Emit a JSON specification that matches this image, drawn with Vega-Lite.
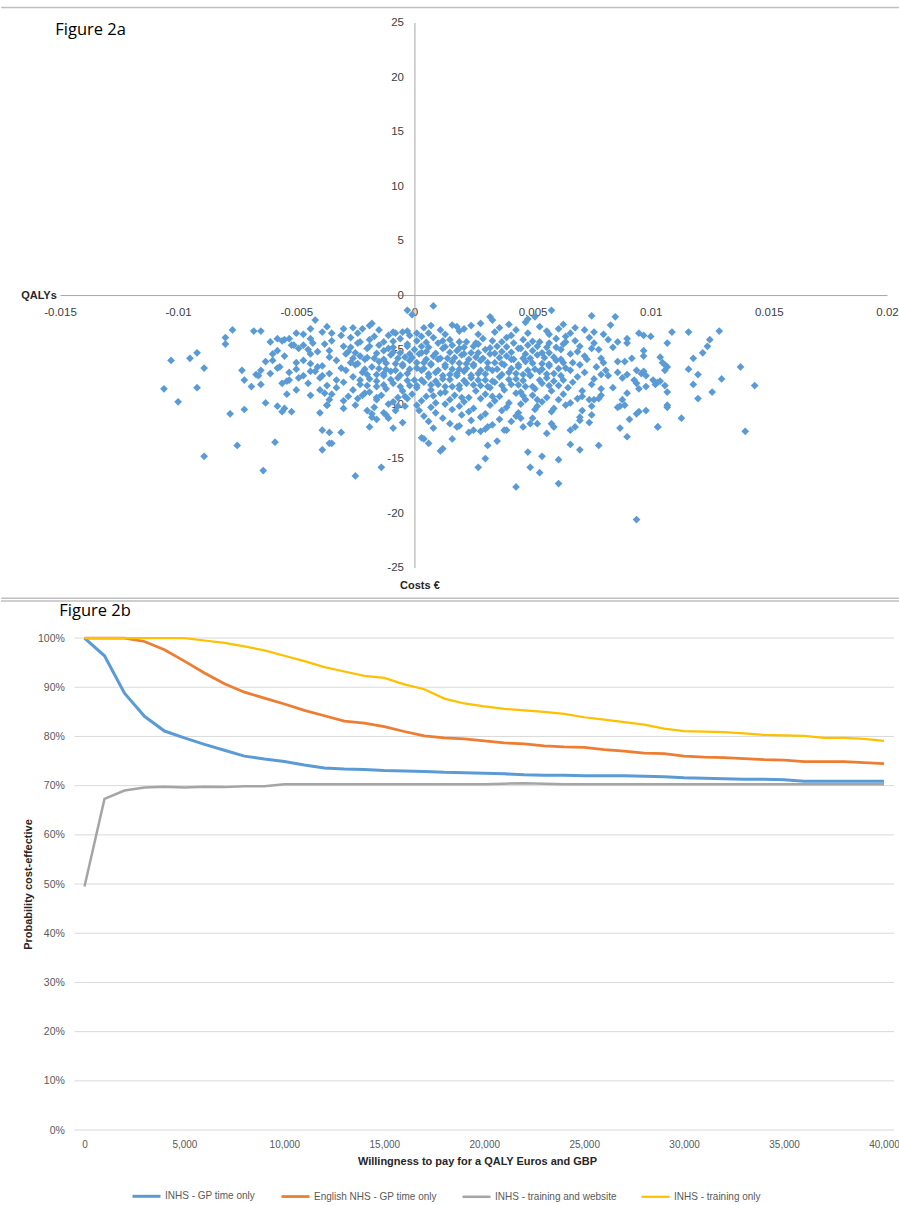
{
"$schema": "https://vega.github.io/schema/vega-lite/v6.json",
"background": "white",
"padding": {"left": 0, "top": 6.55, "right": 0, "bottom": 0},
"autosize": {"type": "pad"},
"config": {"view": {"stroke": null}, "font": "Liberation Sans"},
"bounds": "full",
"spacing": 0.5,
"resolve": {"scale": {"color": "independent", "strokeWidth": "independent"}, "legend": {"color": "independent"}},
"datasets": {
"pts": [
{"q":-0.0077,"c":-3.2},{"q":-0.008,"c":-3.9},{"q":-0.008,"c":-4.5},{"q":-0.0068,"c":-3.3},{"q":-0.0065,"c":-3.3},{"q":-0.0103,"c":-6},{"q":-0.0095,"c":-5.8},{"q":-0.0092,"c":-5.3},{"q":-0.0089,"c":-6.7},{"q":-0.0106,"c":-8.6},{"q":-0.0092,"c":-8.5},{"q":-0.01,"c":-9.8},{"q":-0.0073,"c":-6.9},{"q":-0.0072,"c":-7.8},{"q":-0.0069,"c":-8.4},{"q":-0.0067,"c":-7.3},{"q":-0.0066,"c":-7.4},{"q":-0.0065,"c":-6.9},{"q":-0.0065,"c":-8.2},{"q":-0.0078,"c":-10.9},{"q":-0.0072,"c":-10.5},{"q":-0.0063,"c":-9.9},{"q":-0.0075,"c":-13.8},{"q":-0.0089,"c":-14.8},{"q":-0.0059,"c":-13.5},{"q":-0.0064,"c":-16.1},{"q":-0.0061,"c":-4.3},{"q":-0.0058,"c":-4},{"q":-0.0055,"c":-4.1},{"q":-0.0053,"c":-4},{"q":-0.006,"c":-5.4},{"q":-0.006,"c":-6},{"q":-0.0058,"c":-6.7},{"q":-0.0061,"c":-7.2},{"q":-0.0056,"c":-8.1},{"q":-0.0054,"c":-7.9},{"q":-0.0053,"c":-7.8},{"q":-0.0054,"c":-9.1},{"q":-0.0058,"c":-10.2},{"q":-0.0056,"c":-10.7},{"q":-0.0055,"c":-10.4},{"q":-0.0052,"c":-10.7},{"q":-0.005,"c":-8.7},{"q":-0.0049,"c":-7.6},{"q":-0.005,"c":-3.5},{"q":-0.0051,"c":-4.6},{"q":-0.0047,"c":-4.6},{"q":-0.0045,"c":-5},{"q":-0.0043,"c":-4.4},{"q":-0.0041,"c":-5.2},{"q":-0.0044,"c":-5.4},{"q":-0.0044,"c":-3.1},{"q":-0.0042,"c":-2.3},{"q":-0.0047,"c":-6},{"q":-0.0044,"c":-6.3},{"q":-0.0042,"c":-7},{"q":-0.0041,"c":-6.6},{"q":-0.0039,"c":-7.4},{"q":-0.0044,"c":-9.2},{"q":-0.004,"c":-10.8},{"q":-0.0039,"c":-12.4},{"q":-0.0039,"c":-14.2},{"q":-0.0038,"c":-9},{"q":-0.0037,"c":-10.1},{"q":-0.0036,"c":-13.6},{"q":-0.0036,"c":-12.6},
{"q":0.0008,"c":-1},{"q":-0.0003,"c":-1.4},{"q":-0.0001,"c":-1.8},{"q":-0.0025,"c":-16.6},{"q":-0.0014,"c":-15.8},{"q":-0.0019,"c":-12.1},{"q":-0.0009,"c":-12.2},{"q":-0.0031,"c":-12.6},{"q":-0.0035,"c":-13.6},{"q":0.0003,"c":-13.1},{"q":0.0004,"c":-13.2},{"q":0.0006,"c":-13.6},{"q":0.0011,"c":-14.3},{"q":0.0012,"c":-14.1},{"q":0.0016,"c":-13.2},{"q":0.0027,"c":-15.8},{"q":0.003,"c":-15},{"q":0.0031,"c":-13.8},{"q":0.0018,"c":-12.1},{"q":0.0023,"c":-12.6},{"q":0.0025,"c":-12.4},{"q":0.0028,"c":-12.5},{"q":0.0031,"c":-12.1},{"q":-0.0012,"c":-11},{"q":-0.0011,"c":-11.3},{"q":-0.0008,"c":-10.6},{"q":-0.0007,"c":-10.2},{"q":-0.0018,"c":-10.9},{"q":-0.0018,"c":-11.2},{"q":-0.003,"c":-10.4},{"q":-0.0024,"c":-9.5},{"q":-0.0022,"c":-9.2},{"q":-0.0036,"c":-9.6},{"q":-0.0037,"c":-10.1},
{"q":-0.0037,"c":-2.9},{"q":-0.0035,"c":-3.5},{"q":-0.0026,"c":-3},{"q":-0.0022,"c":-3.1},{"q":-0.0019,"c":-2.8},{"q":-0.0018,"c":-2.6},{"q":-0.0011,"c":-3.7},{"q":-0.0008,"c":-3.5},{"q":-0.0005,"c":-3.4},{"q":-0.0003,"c":-3.3},{"q":0.0001,"c":-3.5},{"q":0.0003,"c":-3.8},{"q":0.0007,"c":-2.8},{"q":0.0011,"c":-3.2},{"q":0.0016,"c":-2.75},{"q":0.0018,"c":-2.9},{"q":0.0028,"c":-2.6},{"q":0.0032,"c":-2},{"q":0.0033,"c":-2.3},
{"q":0.0058,"c":-1.4},{"q":0.0051,"c":-2},{"q":0.0048,"c":-2.2},{"q":0.0047,"c":-2.5},{"q":0.0075,"c":-1.9},{"q":0.0085,"c":-2},{"q":0.0083,"c":-2.75},{"q":0.0063,"c":-2.7},{"q":0.0072,"c":-3.2},{"q":0.0076,"c":-3.4},{"q":0.0066,"c":-3.5},{"q":0.0095,"c":-3.5},{"q":0.0097,"c":-3.7},{"q":0.01,"c":-3.8},{"q":0.009,"c":-4},{"q":0.009,"c":-4.4},{"q":0.0082,"c":-4.1},{"q":0.0084,"c":-4.8},{"q":0.0078,"c":-5},{"q":0.0086,"c":-6.1},{"q":0.0089,"c":-6.1},{"q":0.0092,"c":-5.8},{"q":0.0086,"c":-7.1},{"q":0.0088,"c":-7.6},{"q":0.009,"c":-7.3},{"q":0.0093,"c":-7.8},{"q":0.0094,"c":-6.9},{"q":0.0096,"c":-7.2},{"q":0.0097,"c":-7},{"q":0.0098,"c":-7.4},{"q":0.0094,"c":-8.1},{"q":0.0095,"c":-8.6},{"q":0.0098,"c":-8.4},{"q":0.0101,"c":-7.8},{"q":0.0103,"c":-8},{"q":0.0084,"c":-8.5},{"q":0.009,"c":-9},{"q":0.0088,"c":-9.6},{"q":0.0087,"c":-10.2},{"q":0.0086,"c":-10.3},{"q":0.0089,"c":-10.1},{"q":0.0094,"c":-10.9},{"q":0.0095,"c":-10.7},{"q":0.0098,"c":-10.6},{"q":0.0091,"c":-11.4},{"q":0.0087,"c":-12.2},{"q":0.009,"c":-13},{"q":0.0103,"c":-12.1},{"q":0.0075,"c":-10.2},{"q":0.0075,"c":-11},{"q":0.0074,"c":-11.7},{"q":0.007,"c":-11.2},{"q":0.007,"c":-11.5},{"q":0.0068,"c":-12.1},{"q":0.0066,"c":-12.4},{"q":0.007,"c":-14.2},{"q":0.0066,"c":-13.7},{"q":0.0078,"c":-13.8},{"q":0.0061,"c":-15.1},{"q":0.0061,"c":-17.3},{"q":0.0054,"c":-14.8},{"q":0.0048,"c":-14.4},{"q":0.0049,"c":-15.8},{"q":0.0053,"c":-16.3},{"q":0.0043,"c":-17.6},{"q":0.0094,"c":-20.6},{"q":0.0035,"c":-13.4},{"q":0.0056,"c":-12.7},{"q":0.0058,"c":-11.8},{"q":0.0059,"c":-12.1},{"q":0.0049,"c":-11.8},{"q":0.0045,"c":-11.3},{"q":0.0038,"c":-12.4},{"q":0.0039,"c":-12.4},{"q":0.0074,"c":-9.6},{"q":0.0071,"c":-9.3},{"q":0.0069,"c":-9.5},{"q":0.0076,"c":-9.6},{"q":0.0078,"c":-9.5},{"q":0.0071,"c":-10.6},
{"q":0.0109,"c":-3.4},{"q":0.0116,"c":-3.4},{"q":0.0129,"c":-3.3},{"q":0.0107,"c":-4.4},{"q":0.0125,"c":-4.1},{"q":0.0124,"c":-4.7},{"q":0.0122,"c":-5.3},{"q":0.0118,"c":-5.8},{"q":0.0104,"c":-5.7},{"q":0.0105,"c":-6.2},{"q":0.0106,"c":-6.4},{"q":0.0107,"c":-6.6},{"q":0.0106,"c":-6.9},{"q":0.0116,"c":-6.8},{"q":0.012,"c":-7.3},{"q":0.0118,"c":-8.2},{"q":0.013,"c":-7.7},{"q":0.0138,"c":-6.6},{"q":0.0144,"c":-8.3},{"q":0.0126,"c":-8.9},{"q":0.012,"c":-9.5},{"q":0.0102,"c":-8.2},{"q":0.0104,"c":-7.9},{"q":0.0106,"c":-8.3},{"q":0.0107,"c":-8.9},{"q":0.0107,"c":-10.1},{"q":0.0107,"c":-10.3},{"q":0.0113,"c":-11.3},{"q":0.0103,"c":-12.1},{"q":0.014,"c":-12.5},
{"q":-0.003,"c":-3.1},{"q":-0.0015,"c":-3.2},{"q":0.0004,"c":-3},{"q":0.0021,"c":-3.1},{"q":0.0024,"c":-2.8},{"q":0.0036,"c":-3},{"q":0.004,"c":-2.7},{"q":0.0043,"c":-3.2},{"q":0.0053,"c":-2.9},{"q":0.0056,"c":-3.3},{"q":0.0061,"c":-3.1},{"q":0.0068,"c":-3},
{"q":-0.0047,"c":-3.6},{"q":-0.0039,"c":-3.4},{"q":-0.0031,"c":-3.7},{"q":-0.0024,"c":-3.5},{"q":-0.0017,"c":-3.8},{"q":-0.0009,"c":-3.4},{"q":-0.0002,"c":-3.7},{"q":0.0006,"c":-3.5},{"q":0.0013,"c":-3.6},{"q":0.0019,"c":-3.3},{"q":0.0027,"c":-3.6},{"q":0.0034,"c":-3.4},{"q":0.0041,"c":-3.7},{"q":0.0048,"c":-3.5},{"q":0.0057,"c":-3.6},{"q":0.0064,"c":-3.8},{"q":0.008,"c":-3.6},
{"q":-0.0056,"c":-4.2},{"q":-0.0044,"c":-4},{"q":-0.0035,"c":-4.2},{"q":-0.0027,"c":-3.9},{"q":-0.0019,"c":-4.1},{"q":-0.0013,"c":-4.3},{"q":-0.0006,"c":-4},{"q":0.0001,"c":-4.2},{"q":0.0008,"c":-3.9},{"q":0.0015,"c":-4.1},{"q":0.0022,"c":-4.3},{"q":0.0029,"c":-4},{"q":0.0033,"c":-4.2},{"q":0.0039,"c":-3.9},{"q":0.0046,"c":-4.1},{"q":0.0053,"c":-4.3},{"q":0.006,"c":-4},{"q":0.0068,"c":-4.2},{"q":0.0074,"c":-3.9},{"q":0.0086,"c":-4.3},
{"q":-0.0052,"c":-4.6},{"q":-0.0038,"c":-4.5},{"q":-0.003,"c":-4.7},{"q":-0.0024,"c":-4.4},{"q":-0.0015,"c":-4.6},{"q":-0.0009,"c":-4.8},{"q":-0.0003,"c":-4.5},{"q":0.0003,"c":-4.7},{"q":0.001,"c":-4.4},{"q":0.0016,"c":-4.6},{"q":0.0021,"c":-4.8},{"q":0.0027,"c":-4.5},{"q":0.0035,"c":-4.7},{"q":0.0042,"c":-4.4},{"q":0.0048,"c":-4.6},{"q":0.0056,"c":-4.8},{"q":0.0063,"c":-4.5},{"q":0.007,"c":-4.7},{"q":0.0076,"c":-4.4},
{"q":-0.0058,"c":-5.1},{"q":-0.0049,"c":-4.9},{"q":-0.0036,"c":-5.1},{"q":-0.0028,"c":-5.2},{"q":-0.002,"c":-4.9},{"q":-0.0013,"c":-5.1},{"q":-0.0006,"c":-5.3},{"q":0,"c":-5},{"q":0.0005,"c":-5.2},{"q":0.0012,"c":-4.9},{"q":0.0018,"c":-5.1},{"q":0.0024,"c":-5.3},{"q":0.003,"c":-5},{"q":0.0037,"c":-5.2},{"q":0.0044,"c":-4.9},{"q":0.005,"c":-5.1},{"q":0.0057,"c":-5.3},{"q":0.0062,"c":-5},{"q":0.0069,"c":-5.2},{"q":0.0075,"c":-4.9},{"q":0.0097,"c":-5.1},
{"q":-0.0055,"c":-5.6},{"q":-0.0036,"c":-5.7},{"q":-0.0029,"c":-5.4},{"q":-0.0023,"c":-5.6},{"q":-0.0017,"c":-5.8},{"q":-0.001,"c":-5.5},{"q":-0.0004,"c":-5.7},{"q":0.0002,"c":-5.4},{"q":0.0008,"c":-5.6},{"q":0.0014,"c":-5.8},{"q":0.002,"c":-5.5},{"q":0.0026,"c":-5.7},{"q":0.0032,"c":-5.4},{"q":0.0039,"c":-5.6},{"q":0.0046,"c":-5.8},{"q":0.0052,"c":-5.5},{"q":0.0059,"c":-5.7},{"q":0.0066,"c":-5.4},{"q":0.0072,"c":-5.6},{"q":0.0079,"c":-5.8},{"q":0.0097,"c":-5.6},
{"q":-0.0063,"c":-6.1},{"q":-0.005,"c":-6.2},{"q":-0.0033,"c":-6},{"q":-0.0027,"c":-6.2},{"q":-0.0021,"c":-5.9},{"q":-0.0015,"c":-6.1},{"q":-0.0008,"c":-6.3},{"q":-0.0002,"c":-6},{"q":0.0004,"c":-6.2},{"q":0.001,"c":-5.9},{"q":0.0016,"c":-6.1},{"q":0.0022,"c":-6.3},{"q":0.0028,"c":-6},{"q":0.0034,"c":-6.2},{"q":0.0041,"c":-5.9},{"q":0.0047,"c":-6.1},{"q":0.0054,"c":-6.3},{"q":0.006,"c":-6},{"q":0.0067,"c":-6.2},{"q":0.0073,"c":-5.9},{"q":0.008,"c":-6.2},
{"q":-0.0057,"c":-6.6},{"q":-0.005,"c":-6.8},{"q":-0.0039,"c":-6.5},{"q":-0.0031,"c":-6.7},{"q":-0.0025,"c":-6.4},{"q":-0.0018,"c":-6.6},{"q":-0.0012,"c":-6.8},{"q":-0.0005,"c":-6.5},{"q":0.0001,"c":-6.7},{"q":0.0007,"c":-6.4},{"q":0.0013,"c":-6.6},{"q":0.0019,"c":-6.8},{"q":0.0025,"c":-6.5},{"q":0.0031,"c":-6.7},{"q":0.0038,"c":-6.4},{"q":0.0044,"c":-6.6},{"q":0.0051,"c":-6.8},{"q":0.0057,"c":-6.5},{"q":0.0064,"c":-6.7},{"q":0.007,"c":-6.4},{"q":0.0077,"c":-6.6},{"q":0.0081,"c":-6.9},
{"q":-0.0053,"c":-7.1},{"q":-0.0044,"c":-7},{"q":-0.0036,"c":-7.2},{"q":-0.0029,"c":-6.9},{"q":-0.0022,"c":-7.1},{"q":-0.0016,"c":-7.3},{"q":-0.001,"c":-7},{"q":-0.0003,"c":-7.2},{"q":0.0003,"c":-6.9},{"q":0.0009,"c":-7.1},{"q":0.0015,"c":-7.3},{"q":0.0021,"c":-7},{"q":0.0027,"c":-7.2},{"q":0.0033,"c":-6.9},{"q":0.004,"c":-7.1},{"q":0.0046,"c":-7.3},{"q":0.0053,"c":-7},{"q":0.0059,"c":-7.2},{"q":0.0066,"c":-6.9},{"q":0.0072,"c":-7.1},{"q":0.0079,"c":-7.3},
{"q":-0.0047,"c":-7.4},{"q":-0.004,"c":-7.6},{"q":-0.0033,"c":-7.8},{"q":-0.0026,"c":-7.5},{"q":-0.0019,"c":-7.7},{"q":-0.0013,"c":-7.4},{"q":-0.0007,"c":-7.6},{"q":0,"c":-7.8},{"q":0.0006,"c":-7.5},{"q":0.0012,"c":-7.7},{"q":0.0018,"c":-7.4},{"q":0.0024,"c":-7.6},{"q":0.003,"c":-7.8},{"q":0.0036,"c":-7.5},{"q":0.0043,"c":-7.7},{"q":0.0049,"c":-7.4},{"q":0.0056,"c":-7.6},{"q":0.0063,"c":-7.8},{"q":0.0069,"c":-7.5},{"q":0.0076,"c":-7.7},{"q":0.0082,"c":-7.4},
{"q":-0.0045,"c":-8.1},{"q":-0.0037,"c":-8.3},{"q":-0.003,"c":-8},{"q":-0.0023,"c":-8.2},{"q":-0.0016,"c":-8.4},{"q":-0.0009,"c":-8.1},{"q":-0.0002,"c":-8.3},{"q":0.0004,"c":-8},{"q":0.001,"c":-8.2},{"q":0.0016,"c":-8.4},{"q":0.0022,"c":-8.1},{"q":0.0028,"c":-8.3},{"q":0.0034,"c":-8},{"q":0.0041,"c":-8.2},{"q":0.0047,"c":-8.4},{"q":0.0054,"c":-8.1},{"q":0.0061,"c":-8.3},{"q":0.0067,"c":-8},{"q":0.0075,"c":-8.2},{"q":0.0079,"c":-8.6},
{"q":-0.004,"c":-8.7},{"q":-0.0033,"c":-8.5},{"q":-0.0026,"c":-8.7},{"q":-0.0019,"c":-8.9},{"q":-0.0012,"c":-8.6},{"q":-0.0005,"c":-8.8},{"q":0.0001,"c":-8.5},{"q":0.0007,"c":-8.7},{"q":0.0013,"c":-8.9},{"q":0.0019,"c":-8.6},{"q":0.0026,"c":-8.8},{"q":0.0032,"c":-8.5},{"q":0.0038,"c":-8.7},{"q":0.0045,"c":-8.9},{"q":0.0051,"c":-8.6},{"q":0.0058,"c":-8.8},{"q":0.0065,"c":-8.5},{"q":0.0071,"c":-8.8},
{"q":-0.0035,"c":-9.1},{"q":-0.0028,"c":-9.3},{"q":-0.0021,"c":-9},{"q":-0.0014,"c":-9.2},{"q":-0.0007,"c":-9.4},{"q":-0.0001,"c":-9.1},{"q":0.0005,"c":-9.3},{"q":0.0011,"c":-9},{"q":0.0017,"c":-9.2},{"q":0.0023,"c":-9.4},{"q":0.003,"c":-9.1},{"q":0.0036,"c":-9.3},{"q":0.0043,"c":-9},{"q":0.005,"c":-9.2},{"q":0.0056,"c":-9.4},{"q":0.0063,"c":-9.1},{"q":0.0079,"c":-9.2},
{"q":-0.003,"c":-9.7},{"q":-0.0016,"c":-9.6},{"q":-0.0009,"c":-9.8},{"q":-0.0003,"c":-9.5},{"q":0.0003,"c":-9.7},{"q":0.0009,"c":-9.9},{"q":0.0015,"c":-9.6},{"q":0.0021,"c":-9.8},{"q":0.0028,"c":-9.5},{"q":0.0034,"c":-9.7},{"q":0.004,"c":-9.9},{"q":0.0047,"c":-9.6},{"q":0.0054,"c":-9.8},{"q":0.0061,"c":-9.6},{"q":0.0066,"c":-9.9},
{"q":-0.0025,"c":-10.1},{"q":-0.0017,"c":-10.3},{"q":-0.0011,"c":-10},{"q":-0.0004,"c":-10.2},{"q":0.0001,"c":-10.1},{"q":0.0007,"c":-10.3},{"q":0.0013,"c":-10},{"q":0.0019,"c":-10.2},{"q":0.0025,"c":-10.4},{"q":0.0032,"c":-10.1},{"q":0.0039,"c":-10.3},{"q":0.0045,"c":-10},{"q":0.0052,"c":-10.2},{"q":0.0059,"c":-10.4},{"q":0.0064,"c":-10.1},
{"q":-0.002,"c":-10.6},{"q":-0.0013,"c":-10.8},{"q":0.0002,"c":-10.6},{"q":0.0009,"c":-10.8},{"q":0.0016,"c":-10.5},{"q":0.0023,"c":-10.7},{"q":0.003,"c":-10.9},{"q":0.0037,"c":-10.6},{"q":0.0044,"c":-10.8},{"q":0.0051,"c":-10.5},{"q":0.0058,"c":-10.7},
{"q":-0.0016,"c":-11.4},{"q":0.0004,"c":-11.1},{"q":0.0012,"c":-11.3},{"q":0.002,"c":-11},{"q":0.0028,"c":-11.2},{"q":0.0036,"c":-11.4},{"q":0.0043,"c":-11.1},{"q":0.005,"c":-11.3},
{"q":-0.0005,"c":-11.7},{"q":0.0006,"c":-11.6},{"q":0.0015,"c":-11.8},{"q":0.0024,"c":-11.5},{"q":0.0033,"c":-11.9},{"q":0.0041,"c":-11.6},{"q":0.0052,"c":-11.8},
{"q":0.0008,"c":-12.2},{"q":0.0019,"c":-12},{"q":0.003,"c":-12.3},{"q":0.0046,"c":-12.1},
{"q":-0.0023,"c":-4.3},{"q":-0.0009,"c":-4.25},{"q":0.0005,"c":-4.35},{"q":0.0012,"c":-4.2},{"q":0.0019,"c":-4.3},{"q":0.0026,"c":-4.4},{"q":0.0037,"c":-4.3},{"q":0.005,"c":-4.25},{"q":0.0057,"c":-4.4},{"q":0.0064,"c":-4.3},
{"q":-0.0027,"c":-4.8},{"q":-0.0019,"c":-4.7},{"q":-0.0011,"c":-4.9},{"q":-0.0003,"c":-4.7},{"q":0.0006,"c":-4.8},{"q":0.0013,"c":-4.75},{"q":0.0019,"c":-4.9},{"q":0.0025,"c":-4.7},{"q":0.0032,"c":-4.85},{"q":0.0039,"c":-4.75},{"q":0.0045,"c":-4.9},{"q":0.0052,"c":-4.7},{"q":0.006,"c":-4.8},
{"q":-0.0025,"c":-5.3},{"q":-0.0016,"c":-5.35},{"q":-0.0009,"c":-5.25},{"q":-0.0002,"c":-5.4},{"q":0.0003,"c":-5.3},{"q":0.0009,"c":-5.35},{"q":0.0015,"c":-5.25},{"q":0.0021,"c":-5.4},{"q":0.0027,"c":-5.3},{"q":0.0034,"c":-5.35},{"q":0.0041,"c":-5.25},{"q":0.0047,"c":-5.4},{"q":0.0054,"c":-5.3},
{"q":-0.0026,"c":-5.8},{"q":-0.002,"c":-5.75},{"q":-0.0013,"c":-5.9},{"q":-0.0007,"c":-5.8},{"q":-0.0001,"c":-5.75},{"q":0.0005,"c":-5.9},{"q":0.0011,"c":-5.8},{"q":0.0017,"c":-5.75},{"q":0.0023,"c":-5.9},{"q":0.0029,"c":-5.8},{"q":0.0036,"c":-5.75},{"q":0.0042,"c":-5.9},{"q":0.0049,"c":-5.8},{"q":0.0055,"c":-5.75},{"q":0.0062,"c":-5.9},
{"q":-0.0024,"c":-6.3},{"q":-0.0012,"c":-6.25},{"q":-0.0005,"c":-6.35},{"q":0.0001,"c":-6.2},{"q":0.0007,"c":-6.3},{"q":0.0013,"c":-6.4},{"q":0.0019,"c":-6.25},{"q":0.0025,"c":-6.35},{"q":0.0031,"c":-6.2},{"q":0.0037,"c":-6.3},{"q":0.0044,"c":-6.4},{"q":0.005,"c":-6.25},{"q":0.0057,"c":-6.35},{"q":0.0063,"c":-6.2},
{"q":-0.0021,"c":-6.8},{"q":-0.0015,"c":-6.75},{"q":-0.0008,"c":-6.9},{"q":-0.0002,"c":-6.8},{"q":0.0004,"c":-6.75},{"q":0.001,"c":-6.9},{"q":0.0016,"c":-6.8},{"q":0.0022,"c":-6.75},{"q":0.0028,"c":-6.9},{"q":0.0035,"c":-6.8},{"q":0.0041,"c":-6.75},{"q":0.0048,"c":-6.9},{"q":0.0054,"c":-6.8},{"q":0.0061,"c":-6.75},
{"q":-0.002,"c":-7.3},{"q":-0.0013,"c":-7.2},{"q":-0.0006,"c":-7.35},{"q":0.0006,"c":-7.25},{"q":0.0012,"c":-7.4},{"q":0.0018,"c":-7.2},{"q":0.0024,"c":-7.35},{"q":0.003,"c":-7.25},{"q":0.0037,"c":-7.3},{"q":0.0043,"c":-7.2},{"q":0.0049,"c":-7.35},{"q":0.0056,"c":-7.25},{"q":0.0062,"c":-7.4},
{"q":-0.0023,"c":-7.8},{"q":-0.0016,"c":-7.9},{"q":-0.001,"c":-7.75},{"q":-0.0003,"c":-7.85},{"q":0.0003,"c":-7.8},{"q":0.0009,"c":-7.9},{"q":0.0015,"c":-7.75},{"q":0.0021,"c":-7.85},{"q":0.0027,"c":-7.8},{"q":0.0033,"c":-7.9},{"q":0.004,"c":-7.75},{"q":0.0046,"c":-7.85},{"q":0.0053,"c":-7.8},{"q":0.0059,"c":-7.9},
{"q":-0.002,"c":-8.3},{"q":-0.0013,"c":-8.25},{"q":-0.0006,"c":-8.4},{"q":0.0001,"c":-8.3},{"q":0.0007,"c":-8.25},{"q":0.0013,"c":-8.4},{"q":0.0019,"c":-8.3},{"q":0.0025,"c":-8.25},{"q":0.0031,"c":-8.4},{"q":0.0037,"c":-8.3},{"q":0.0044,"c":-8.25},{"q":0.005,"c":-8.4},{"q":0.0057,"c":-8.3},
{"q":-0.0016,"c":-9.4},{"q":-0.0004,"c":-9.3},{"q":0.0008,"c":-9.25},{"q":0.002,"c":-9.4},{"q":0.0033,"c":-9.3},{"q":0.0046,"c":-9.25},{"q":0.0052,"c":-9.6}
],
"ceac": [
{"w":0,"INHS - GP time only":1,"English NHS - GP time only":1,"INHS - training and website":0.495,"INHS - training only":1},
{"w":1000,"INHS - GP time only":0.964,"English NHS - GP time only":1,"INHS - training and website":0.673,"INHS - training only":1},
{"w":2000,"INHS - GP time only":0.888,"English NHS - GP time only":1,"INHS - training and website":0.69,"INHS - training only":1},
{"w":3000,"INHS - GP time only":0.841,"English NHS - GP time only":0.993,"INHS - training and website":0.696,"INHS - training only":1},
{"w":4000,"INHS - GP time only":0.811,"English NHS - GP time only":0.976,"INHS - training and website":0.698,"INHS - training only":1},
{"w":5000,"INHS - GP time only":0.797,"English NHS - GP time only":0.953,"INHS - training and website":0.696,"INHS - training only":1},
{"w":6000,"INHS - GP time only":0.784,"English NHS - GP time only":0.929,"INHS - training and website":0.698,"INHS - training only":0.995},
{"w":7000,"INHS - GP time only":0.772,"English NHS - GP time only":0.907,"INHS - training and website":0.697,"INHS - training only":0.99},
{"w":8000,"INHS - GP time only":0.76,"English NHS - GP time only":0.89,"INHS - training and website":0.699,"INHS - training only":0.983},
{"w":9000,"INHS - GP time only":0.754,"English NHS - GP time only":0.878,"INHS - training and website":0.699,"INHS - training only":0.975},
{"w":10000,"INHS - GP time only":0.749,"English NHS - GP time only":0.866,"INHS - training and website":0.703,"INHS - training only":0.964},
{"w":11000,"INHS - GP time only":0.742,"English NHS - GP time only":0.853,"INHS - training and website":0.703,"INHS - training only":0.953},
{"w":12000,"INHS - GP time only":0.736,"English NHS - GP time only":0.842,"INHS - training and website":0.703,"INHS - training only":0.941},
{"w":13000,"INHS - GP time only":0.734,"English NHS - GP time only":0.831,"INHS - training and website":0.703,"INHS - training only":0.932},
{"w":14000,"INHS - GP time only":0.733,"English NHS - GP time only":0.827,"INHS - training and website":0.703,"INHS - training only":0.923},
{"w":15000,"INHS - GP time only":0.731,"English NHS - GP time only":0.82,"INHS - training and website":0.703,"INHS - training only":0.919},
{"w":16000,"INHS - GP time only":0.73,"English NHS - GP time only":0.81,"INHS - training and website":0.703,"INHS - training only":0.906},
{"w":17000,"INHS - GP time only":0.729,"English NHS - GP time only":0.801,"INHS - training and website":0.703,"INHS - training only":0.896},
{"w":18000,"INHS - GP time only":0.727,"English NHS - GP time only":0.797,"INHS - training and website":0.703,"INHS - training only":0.877},
{"w":19000,"INHS - GP time only":0.726,"English NHS - GP time only":0.795,"INHS - training and website":0.703,"INHS - training only":0.867},
{"w":20000,"INHS - GP time only":0.725,"English NHS - GP time only":0.791,"INHS - training and website":0.703,"INHS - training only":0.861},
{"w":21000,"INHS - GP time only":0.724,"English NHS - GP time only":0.787,"INHS - training and website":0.704,"INHS - training only":0.856},
{"w":22000,"INHS - GP time only":0.722,"English NHS - GP time only":0.785,"INHS - training and website":0.705,"INHS - training only":0.853},
{"w":23000,"INHS - GP time only":0.721,"English NHS - GP time only":0.781,"INHS - training and website":0.704,"INHS - training only":0.85},
{"w":24000,"INHS - GP time only":0.721,"English NHS - GP time only":0.779,"INHS - training and website":0.703,"INHS - training only":0.846},
{"w":25000,"INHS - GP time only":0.72,"English NHS - GP time only":0.778,"INHS - training and website":0.703,"INHS - training only":0.839},
{"w":26000,"INHS - GP time only":0.72,"English NHS - GP time only":0.773,"INHS - training and website":0.703,"INHS - training only":0.834},
{"w":27000,"INHS - GP time only":0.72,"English NHS - GP time only":0.77,"INHS - training and website":0.703,"INHS - training only":0.829},
{"w":28000,"INHS - GP time only":0.719,"English NHS - GP time only":0.766,"INHS - training and website":0.703,"INHS - training only":0.824},
{"w":29000,"INHS - GP time only":0.718,"English NHS - GP time only":0.765,"INHS - training and website":0.703,"INHS - training only":0.816},
{"w":30000,"INHS - GP time only":0.716,"English NHS - GP time only":0.76,"INHS - training and website":0.703,"INHS - training only":0.811},
{"w":31000,"INHS - GP time only":0.715,"English NHS - GP time only":0.758,"INHS - training and website":0.703,"INHS - training only":0.81},
{"w":32000,"INHS - GP time only":0.714,"English NHS - GP time only":0.757,"INHS - training and website":0.703,"INHS - training only":0.809},
{"w":33000,"INHS - GP time only":0.713,"English NHS - GP time only":0.755,"INHS - training and website":0.703,"INHS - training only":0.806},
{"w":34000,"INHS - GP time only":0.713,"English NHS - GP time only":0.753,"INHS - training and website":0.703,"INHS - training only":0.803},
{"w":35000,"INHS - GP time only":0.712,"English NHS - GP time only":0.752,"INHS - training and website":0.703,"INHS - training only":0.802},
{"w":36000,"INHS - GP time only":0.709,"English NHS - GP time only":0.749,"INHS - training and website":0.703,"INHS - training only":0.801},
{"w":37000,"INHS - GP time only":0.709,"English NHS - GP time only":0.749,"INHS - training and website":0.703,"INHS - training only":0.797},
{"w":38000,"INHS - GP time only":0.709,"English NHS - GP time only":0.749,"INHS - training and website":0.703,"INHS - training only":0.797},
{"w":39000,"INHS - GP time only":0.709,"English NHS - GP time only":0.747,"INHS - training and website":0.703,"INHS - training only":0.795},
{"w":40000,"INHS - GP time only":0.709,"English NHS - GP time only":0.745,"INHS - training and website":0.703,"INHS - training only":0.791}
],
"grid": [{"g":0},{"g":0.1},{"g":0.2},{"g":0.3},{"g":0.4},{"g":0.5},{"g":0.6},{"g":0.7},{"g":0.8},{"g":0.9},{"g":1}]
},
"vconcat": [
{
"width": 827,
"height": 545,
"layer": [
{
"data": {"values": [{"x1": -0.01749, "x2": 0.02055, "y": 26.38}, {"x1": -0.01749, "x2": 0.02055, "y": -27.82}]},
"mark": {"type": "rule", "color": "#BFBFBF", "strokeWidth": 1.5},
"encoding": {
"x": {"field": "x1", "type": "quantitative", "title": null, "scale": {"domain": [-0.015, 0.02], "nice": false, "zero": false}},
"x2": {"field": "x2"},
"y": {"field": "y", "type": "quantitative", "title": null, "scale": {"domain": [-25, 25], "nice": false, "zero": false}}
}
},
{
"data": {"name": "pts"},
"mark": {"type": "point", "shape": "diamond", "filled": true, "size": 60, "color": "#5B9BD5", "opacity": 1},
"encoding": {
"x": {"field": "q", "type": "quantitative", "title": null, "scale": {"domain": [-0.015, 0.02], "nice": false, "zero": false},
"axis": {"values": [-0.015, -0.01, -0.005, 0, 0.005, 0.01, 0.015, 0.02], "labelExpr": "'' + datum.value", "orient": "bottom", "offset": -272.5, "grid": false, "ticks": false, "tickSize": 0, "domainColor": "#A6A6A6", "domainWidth": 1, "labelPadding": 11, "labelFontSize": 11.5, "labelColor": "#404040", "labelFlush": false, "labelOverlap": false, "title": null}},
"y": {"field": "c", "type": "quantitative", "title": null, "scale": {"domain": [-25, 25], "nice": false, "zero": false},
"axis": {"values": [-25, -20, -15, -10, -5, 0, 5, 10, 15, 20, 25], "labelExpr": "'' + datum.value", "orient": "left", "offset": -354.43, "grid": false, "ticks": false, "tickSize": 0, "domainColor": "#A6A6A6", "domainWidth": 1, "labelPadding": 11, "labelFontSize": 11.5, "labelColor": "#404040", "labelFlush": false, "labelOverlap": false, "title": null}}
}
},
{
"data": {"values": [{"q": -0.015199, "c": 23.9, "t": "Figure 2a"}]},
"mark": {"type": "text", "align": "left", "baseline": "alphabetic", "font": "Open Sans", "fontSize": 16.5, "color": "#000000"},
"encoding": {
"x": {"field": "q", "type": "quantitative", "title": null, "scale": {"domain": [-0.015, 0.02], "nice": false, "zero": false}},
"y": {"field": "c", "type": "quantitative", "title": null, "scale": {"domain": [-25, 25], "nice": false, "zero": false}},
"text": {"field": "t"}
}
},
{
"data": {"values": [{"q": -0.015889, "c": -0.1, "t": "QALYs"}, {"q": 0.000233, "c": -26.72, "t": "Costs €"}]},
"mark": {"type": "text", "align": "center", "baseline": "middle", "fontWeight": "bold", "fontSize": 11, "color": "#262626"},
"encoding": {
"x": {"field": "q", "type": "quantitative", "title": null, "scale": {"domain": [-0.015, 0.02], "nice": false, "zero": false}},
"y": {"field": "c", "type": "quantitative", "title": null, "scale": {"domain": [-25, 25], "nice": false, "zero": false}},
"text": {"field": "t"}
}
}
]
},
{
"width": 834,
"height": 492,
"layer": [
{
"data": {"values": [{"w1": -4177.5, "w2": 40799, "p": 1.0752}]},
"mark": {"type": "rule", "color": "#BFBFBF", "strokeWidth": 1.5},
"encoding": {
"x": {"field": "w1", "type": "quantitative", "title": "Willingness to pay for a QALY Euros and GBP", "scale": {"domain": [-1225.7, 40500], "nice": false, "zero": false}},
"x2": {"field": "w2"},
"y": {"field": "p", "type": "quantitative", "title": "Probability cost-effective", "scale": {"domain": [0, 1], "nice": false, "zero": false}}
}
},
{
"data": {"name": "grid"},
"mark": {"type": "rule", "color": "#D9D9D9", "strokeWidth": 1},
"encoding": {
"x": {"datum": -500, "type": "quantitative", "title": "Willingness to pay for a QALY Euros and GBP"},
"x2": {"datum": 40500},
"y": {"field": "g", "type": "quantitative", "title": "Probability cost-effective", "scale": {"domain": [0, 1], "nice": false, "zero": false}}
}
},
{
"data": {"name": "ceac"},
"transform": [{"fold": ["INHS - GP time only", "English NHS - GP time only", "INHS - training and website", "INHS - training only"], "as": ["series", "prob"]}],
"mark": {"type": "line", "interpolate": "linear"},
"encoding": {
"x": {"field": "w", "type": "quantitative", "title": "Willingness to pay for a QALY Euros and GBP", "scale": {"domain": [-1225.7, 40500], "nice": false, "zero": false},
"axis": {"values": [0, 5000, 10000, 15000, 20000, 25000, 30000, 35000, 40000], "labelExpr": "format(datum.value, ',')", "ticks": false, "tickSize": 0, "domain": false, "grid": false, "labelPadding": 9, "labelFontSize": 10, "labelColor": "#595959", "labelFlush": false, "labelOverlap": false, "title": "Willingness to pay for a QALY Euros and GBP", "titleFontSize": 11, "titleFontWeight": "bold", "titleColor": "#262626", "titlePadding": 6}},
"y": {"field": "prob", "type": "quantitative", "title": "Probability cost-effective", "scale": {"domain": [0, 1], "nice": false, "zero": false},
"axis": {"values": [0, 0.1, 0.2, 0.3, 0.4, 0.5, 0.6, 0.7, 0.8, 0.9, 1], "labelExpr": "format(datum.value, '.0%')", "ticks": false, "tickSize": 0, "domain": false, "grid": false, "labelPadding": -4.3, "labelFontSize": 10.5, "labelColor": "#595959", "labelFlush": false, "labelOverlap": false, "title": "Probability cost-effective", "titleFontSize": 11, "titleFontWeight": "bold", "titleColor": "#262626", "titlePadding": 4}},
"color": {"field": "series", "type": "nominal", "scale": {"domain": ["INHS - GP time only", "English NHS - GP time only", "INHS - training and website", "INHS - training only"], "range": ["#5B9BD5", "#ED7D31", "#A5A5A5", "#FFC000"]},
"legend": {"orient": "none", "legendX": 71, "legendY": 542.5, "direction": "horizontal", "columns": 4, "title": null, "symbolType": "stroke", "symbolSize": 784, "symbolStrokeWidth": 3, "labelFontSize": 10, "labelColor": "#595959", "columnPadding": 20, "labelOffset": 3}},
"strokeWidth": {"field": "series", "type": "nominal", "scale": {"domain": ["INHS - GP time only", "English NHS - GP time only", "INHS - training and website", "INHS - training only"], "range": [3, 2.25, 2.25, 2.25]}, "legend": null}
}
},
{
"data": {"values": [{"w": -1260, "p": 1.0447, "t": "Figure 2b"}]},
"mark": {"type": "text", "align": "left", "baseline": "alphabetic", "font": "Open Sans", "fontSize": 16.5, "color": "#000000"},
"encoding": {
"x": {"field": "w", "type": "quantitative", "title": "Willingness to pay for a QALY Euros and GBP", "scale": {"domain": [-1225.7, 40500], "nice": false, "zero": false}},
"y": {"field": "p", "type": "quantitative", "title": "Probability cost-effective", "scale": {"domain": [0, 1], "nice": false, "zero": false}},
"text": {"field": "t"}
}
}
]
}
]
}
